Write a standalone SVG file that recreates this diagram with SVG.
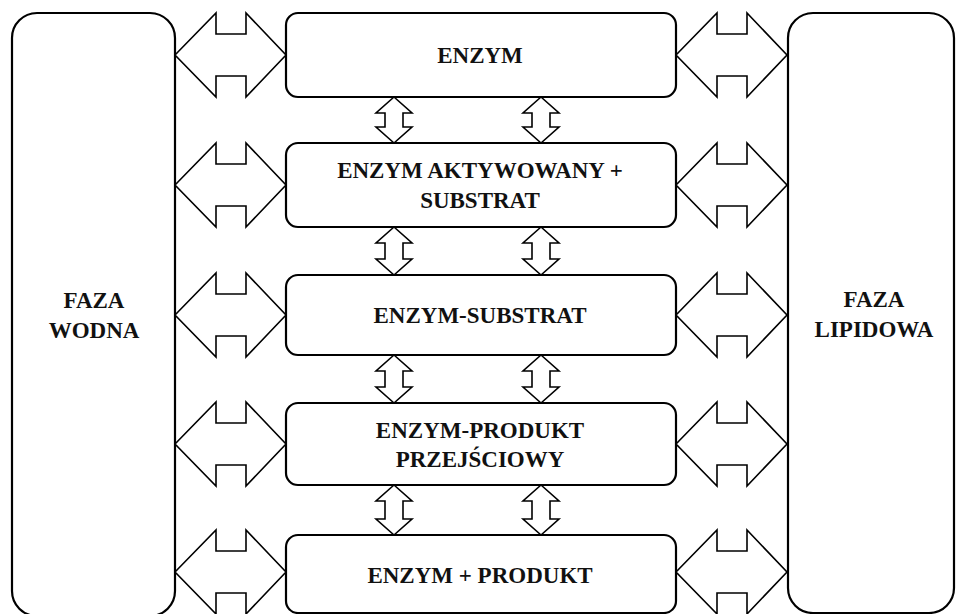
<svg xmlns="http://www.w3.org/2000/svg" xmlns:xlink="http://www.w3.org/1999/xlink" width="959" height="614" viewBox="0 0 959 614">
<style>
.box{fill:#fff;stroke:#000;stroke-width:2.2}
.arr{fill:#fff;stroke:#000;stroke-width:1.6;stroke-linejoin:miter}
.t{font-family:'Liberation Serif','Times New Roman',serif;font-weight:bold;font-size:23px;text-anchor:middle;fill:#111}
</style>
<defs>
<path id="harrow" d="M0,0 L41,-42 L41,-21 L71,-21 L71,-42 L111,0 L71,42 L71,21 L41,21 L41,42 Z"/>
</defs>
<rect width="959" height="614" fill="#fff"/>
<g id="faza-wodna">
<rect class="box" x="12" y="13" width="163" height="603" rx="25"/>
<text class="t" x="94" y="308">FAZA</text>
<text class="t" x="94" y="338">WODNA</text>
</g>
<g id="faza-lipidowa">
<rect class="box" x="788" y="13" width="166" height="600" rx="25"/>
<text class="t" x="874" y="307">FAZA</text>
<text class="t" x="874" y="337">LIPIDOWA</text>
</g>
<g id="enzym">
<rect class="box" x="286" y="13" width="390" height="84" rx="12"/>
<text class="t" x="480" y="63">ENZYM</text>
</g>
<g id="enzym-aktywowany">
<rect class="box" x="286" y="143" width="390" height="84" rx="12"/>
<text class="t" x="480" y="178">ENZYM AKTYWOWANY +</text>
<text class="t" x="480" y="208">SUBSTRAT</text>
</g>
<g id="enzym-substrat">
<rect class="box" x="286" y="275" width="390" height="80" rx="12"/>
<text class="t" x="480" y="323">ENZYM-SUBSTRAT</text>
</g>
<g id="enzym-produkt-przejsciowy">
<rect class="box" x="286" y="403" width="390" height="82" rx="12"/>
<text class="t" x="480" y="438">ENZYM-PRODUKT</text>
<text class="t" x="480" y="467">PRZEJŚCIOWY</text>
</g>
<g id="enzym-produkt">
<rect class="box" x="286" y="535" width="390" height="78" rx="12"/>
<text class="t" x="480" y="583">ENZYM + PRODUKT</text>
</g>
<g id="connectors">
<use class="arr" xlink:href="#harrow" transform="translate(175,55)"/>
<use class="arr" xlink:href="#harrow" transform="translate(175,185)"/>
<use class="arr" xlink:href="#harrow" transform="translate(175,315)"/>
<use class="arr" xlink:href="#harrow" transform="translate(175,444)"/>
<use class="arr" xlink:href="#harrow" transform="translate(175,572)"/>
<use class="arr" xlink:href="#harrow" transform="translate(676,55)"/>
<use class="arr" xlink:href="#harrow" transform="translate(676,185)"/>
<use class="arr" xlink:href="#harrow" transform="translate(676,315)"/>
<use class="arr" xlink:href="#harrow" transform="translate(676,444)"/>
<use class="arr" xlink:href="#harrow" transform="translate(676,572)"/>
<path class="arr" d="M394,97 L412,113 L403,113 L403,127 L412,127 L394,143 L376,127 L385,127 L385,113 L376,113 Z"/>
<path class="arr" d="M541,97 L559,113 L550,113 L550,127 L559,127 L541,143 L523,127 L532,127 L532,113 L523,113 Z"/>
<path class="arr" d="M394,227 L412,243 L403,243 L403,259 L412,259 L394,275 L376,259 L385,259 L385,243 L376,243 Z"/>
<path class="arr" d="M541,227 L559,243 L550,243 L550,259 L559,259 L541,275 L523,259 L532,259 L532,243 L523,243 Z"/>
<path class="arr" d="M394,355 L412,371 L403,371 L403,387 L412,387 L394,403 L376,387 L385,387 L385,371 L376,371 Z"/>
<path class="arr" d="M541,355 L559,371 L550,371 L550,387 L559,387 L541,403 L523,387 L532,387 L532,371 L523,371 Z"/>
<path class="arr" d="M394,485 L412,501 L403,501 L403,519 L412,519 L394,535 L376,519 L385,519 L385,501 L376,501 Z"/>
<path class="arr" d="M541,485 L559,501 L550,501 L550,519 L559,519 L541,535 L523,519 L532,519 L532,501 L523,501 Z"/>
</g>
</svg>
